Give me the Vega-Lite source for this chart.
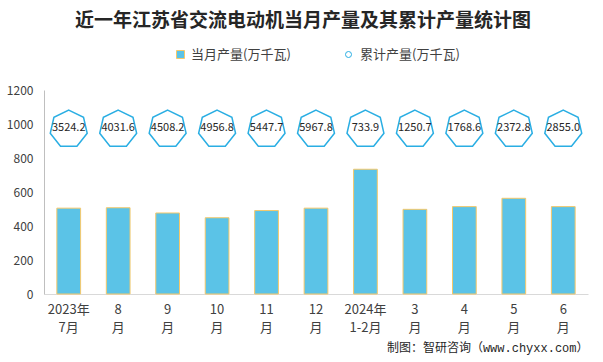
{
  "$schema": "https://vega.github.io/schema/vega-lite/v6.json",
  "width": 544,
  "height": 204,
  "padding": {"left": 6, "top": 12, "right": 16, "bottom": 4},
  "background": "white",
  "title": {
    "text": "近一年江苏省交流电动机当月产量及其累计产量统计图",
    "font": "Noto Sans CJK SC",
    "fontSize": 19,
    "fontWeight": "bold",
    "color": "#262626",
    "anchor": "middle",
    "dx": -13,
    "offset": 17
  },
  "data": {
    "values": [
      {"m": "2023年|7月", "cur": 505, "cum": 3524.2},
      {"m": "8|月", "cur": 507.4, "cum": 4031.6},
      {"m": "9|月", "cur": 476.6, "cum": 4508.2},
      {"m": "10|月", "cur": 448.6, "cum": 4956.8},
      {"m": "11|月", "cur": 490.9, "cum": 5447.7},
      {"m": "12|月", "cur": 505, "cum": 5967.8},
      {"m": "2024年|1-2月", "cur": 733.9, "cum": 733.9},
      {"m": "3|月", "cur": 498, "cum": 1250.7},
      {"m": "4|月", "cur": 514, "cum": 1768.6},
      {"m": "5|月", "cur": 563, "cum": 2372.8},
      {"m": "6|月", "cur": 514, "cum": 2855.0}
    ]
  },
  "encoding": {
    "x": {
      "field": "m",
      "type": "nominal",
      "sort": null,
      "scale": {"paddingInner": 0.52, "paddingOuter": 0.26},
      "axis": {
        "title": "制图：智研咨询（www.chyxx.com）",
        "titleAnchor": "end",
        "titleFont": "Liberation Mono, Noto Sans CJK SC",
        "titleFontSize": 12,
        "titleFontWeight": "normal",
        "titleColor": "#262626",
        "titlePadding": 8,
        "labelExpr": "split(datum.value, '|')",
        "labelAngle": 0,
        "labelFont": "Noto Sans CJK SC",
        "labelFontSize": 13,
        "labelColor": "#404040",
        "labelLineHeight": 18,
        "labelPadding": 9,
        "ticks": false,
        "domainColor": "#d9d9d9"
      }
    },
    "y": {
      "type": "quantitative",
      "scale": {"domain": [0, 1200]},
      "axis": {
        "title": null,
        "values": [0, 200, 400, 600, 800, 1000, 1200],
        "format": "d",
        "labelOverlap": false,
        "grid": false,
        "ticks": false,
        "labelPadding": 11,
        "labelFont": "Noto Sans CJK SC",
        "labelFontSize": 12,
        "labelColor": "#404040",
        "domainColor": "#bfbfbf"
      }
    }
  },
  "layer": [
    {
      "mark": {"type": "bar", "stroke": "#F5C86A", "strokeWidth": 1},
      "encoding": {
        "y": {"field": "cur"},
        "fill": {
          "datum": "当月产量(万千瓦)",
          "scale": {"domain": ["当月产量(万千瓦)"], "range": ["#5BC3E7"]},
          "legend": {
            "title": null,
            "orient": "none",
            "legendX": 130,
            "legendY": -42,
            "labelFont": "Noto Sans CJK SC",
            "labelFontSize": 13,
            "labelColor": "#404040",
            "labelOffset": 4,
            "symbolType": "square",
            "symbolSize": 64,
            "symbolStrokeColor": "#F5C86A",
            "symbolStrokeWidth": 1
          }
        }
      }
    },
    {
      "mark": {
        "type": "point",
        "filled": false,
        "shape": "M0,-1L0.7818,-0.6235L0.9749,0.2225L0.4339,0.901L-0.4339,0.901L-0.9749,0.2225L-0.7818,-0.6235Z",
        "size": 1435,
        "strokeWidth": 1.5,
        "fill": "white",
        "fillOpacity": 1,
        "opacity": 1
      },
      "encoding": {
        "y": {"datum": 970},
        "stroke": {
          "datum": "累计产量(万千瓦)",
          "scale": {"domain": ["累计产量(万千瓦)"], "range": ["#2AAEE3"]},
          "legend": {
            "title": null,
            "orient": "none",
            "legendX": 298,
            "legendY": -42,
            "labelFont": "Noto Sans CJK SC",
            "labelFontSize": 13,
            "labelColor": "#404040",
            "labelOffset": 5,
            "symbolType": "circle",
            "symbolSize": 36,
            "symbolFillColor": "#ffffff",
            "symbolStrokeWidth": 1,
            "encode": {"symbols": {"update": {"stroke": {"value": "#A9DDF2"}}}}
          }
        }
      }
    },
    {
      "mark": {"type": "text", "font": "Noto Sans CJK SC", "fontSize": 11, "color": "#262626", "baseline": "middle", "dy": -1},
      "encoding": {
        "y": {"datum": 970},
        "text": {"field": "cum", "type": "quantitative", "format": ".1f"}
      }
    }
  ],
  "config": {"view": {"stroke": null}}
}
